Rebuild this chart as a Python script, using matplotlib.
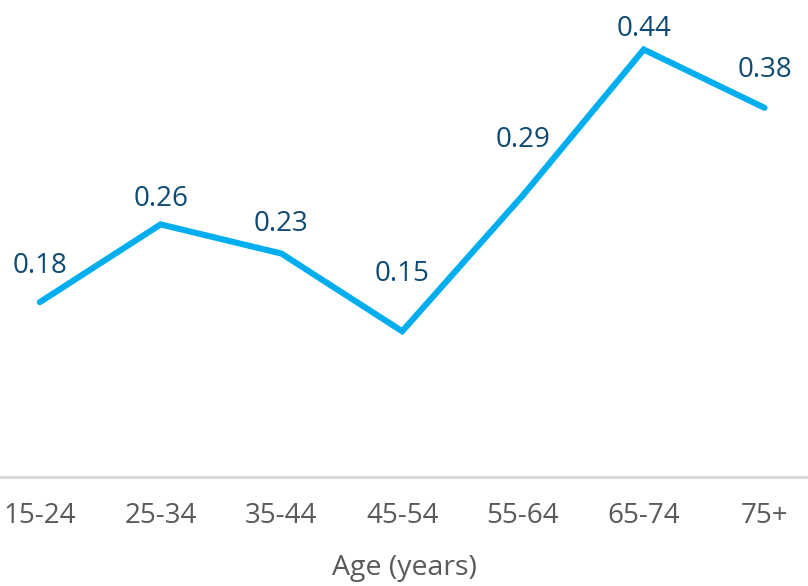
import matplotlib
matplotlib.use("Agg")
import matplotlib.pyplot as plt

plt.rcParams["font.family"] = ["Open Sans", "DejaVu Sans"]

age_groups = ["15-24", "25-34", "35-44", "45-54", "55-64", "65-74", "75+"]
values = [0.18, 0.26, 0.23, 0.15, 0.29, 0.44, 0.38]

# vertical gap (points) between each marker and its value label
label_gap = [26, 18, 21, 41, 40, 15, 27]

fig = plt.figure(figsize=(8.08, 5.86), dpi=100)
ax = fig.add_axes([0, 0.186, 1, 0.814])

x = range(len(values))
ax.plot(x, values, color="#00AEEF", lw=4.4, solid_capstyle="round", solid_joinstyle="miter")

for xi, v, gap in zip(x, values, label_gap):
    ax.annotate("{:.2f}".format(v), (xi, v), xytext=(0, gap), textcoords="offset points",
                ha="center", va="center", fontsize=20, color="#0E4A72")

ax.set_xlim(-0.33, 6.36)
ax.set_ylim(0, 0.491)
ax.set_yticks([])
ax.set_xticks(list(x))
ax.set_xticklabels(age_groups, fontsize=20, color="#595959")
ax.tick_params(axis="x", length=0, pad=18)
ax.set_xlabel("Age (years)", fontsize=20.5, color="#595959", labelpad=17)

for side in ["top", "left", "right"]:
    ax.spines[side].set_visible(False)
ax.spines["bottom"].set_color("#D9D9D9")
ax.spines["bottom"].set_linewidth(2.2)

fig.savefig("out.png", dpi=100)
